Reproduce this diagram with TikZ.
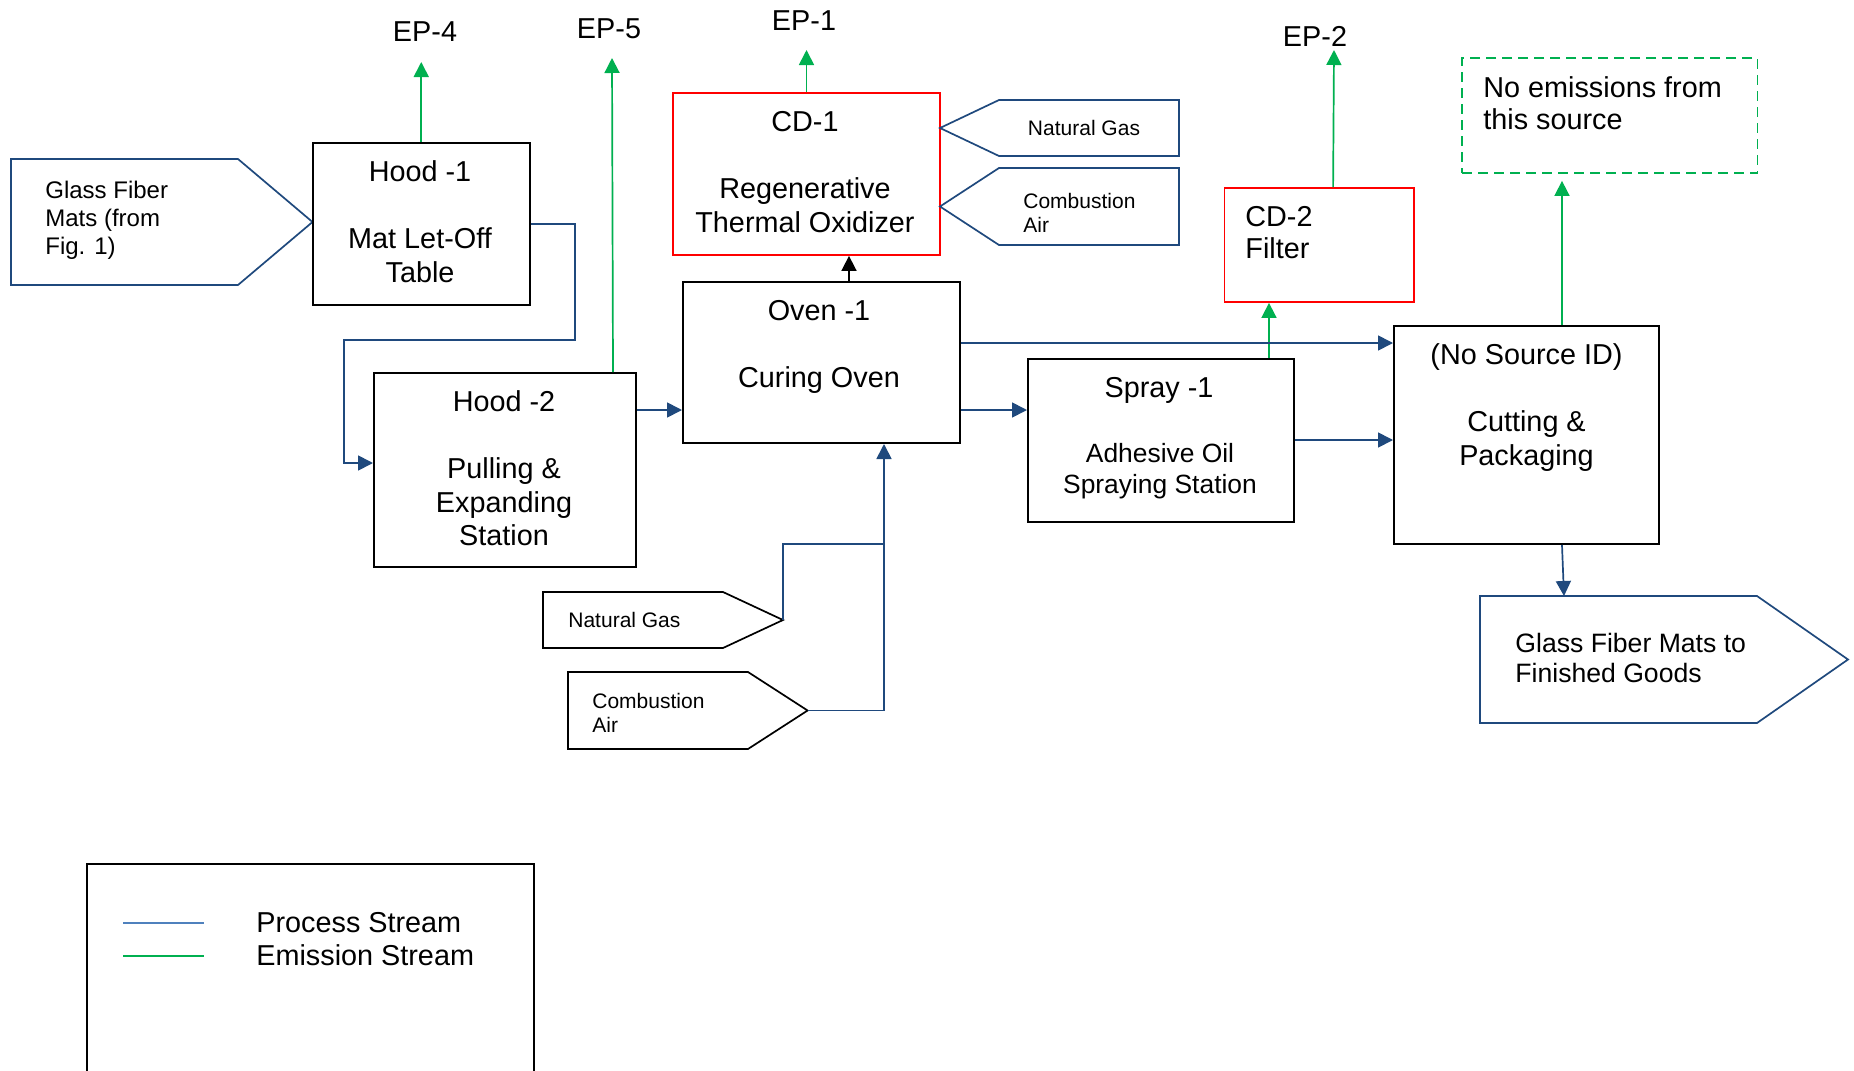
\documentclass[tikz,border=0pt]{standalone}
\usepackage{fontspec}
\setmainfont{Liberation Sans}
\usetikzlibrary{arrows.meta,calc}
\definecolor{procblue}{RGB}{31,73,125}
\definecolor{legblue}{RGB}{79,129,189}
\definecolor{emgreen}{RGB}{0,176,80}
\definecolor{cdred}{RGB}{255,0,0}
\newcommand\myfA{\fontsize{14.4pt}{16.75pt}\selectfont}
\newcommand\myfB{\fontsize{10.5pt}{12pt}\selectfont}
\newcommand\myfC{\fontsize{12pt}{14pt}\selectfont}
\newcommand\myfD{\fontsize{13.3pt}{15pt}\selectfont}
\newcommand\myfE{\fontsize{13.2pt}{15.5pt}\selectfont}
\newcommand\myfF{\fontsize{14.4pt}{16pt}\selectfont}
\newcommand\myfG{\fontsize{14.4pt}{16.5pt}\selectfont}
\begin{document}
\begin{tikzpicture}[x=0.5pt,y=-0.5pt,
  box/.style={draw=black,line width=1pt,inner sep=0pt},
  cdbox/.style={draw=cdred,line width=0.9pt,inner sep=0pt},
  txt/.style={inner sep=0pt,align=center,font=\myfA,text depth=0pt},
  ltxt/.style={inner sep=0pt,align=left,anchor=west,text depth=0pt},
  shp/.style={inner sep=0pt,outer sep=0pt},
  proc/.style={draw=procblue,line width=0.85pt},
  inb/.style={draw=black,line width=0.85pt},
  emis/.style={draw=emgreen,line width=0.85pt},
  arr/.style={-{Triangle[length=7.5pt,width=7.5pt]}},
]
\fill[white] (0,0) rectangle (1854,1071);
\useasboundingbox (0,0) rectangle (1854,1071);

% ---- input: glass fiber mats
\node[shp,minimum width=150.75pt,minimum height=63pt] (gf) at (161.75,222) {};
\draw[proc] (gf.north west) -- ($(gf.north east)+(-74.5,0)$) -- (gf.east) -- ($(gf.south east)+(-74.5,0)$) -- (gf.south west) -- cycle;
\node[ltxt,font=\myfC] (gft) at (45,218) {Glass Fiber\\Mats (from\\Fig. 1)};

% ---- boxes
\node[box,minimum width=108.75pt,minimum height=81pt] (hood1) at (421.25,224) {};
\node[txt] (hood1t) at (420,221.5) {Hood -1\\[16.75pt]Mat Let-Off\\Table};

\node[box,minimum width=131pt,minimum height=97pt] (hood2) at (505,470) {};
\node[txt] (hood2t) at (504,468.5) {Hood -2\\[16.75pt]Pulling \&\\Expanding\\Station};

\node[cdbox,minimum width=133.5pt,minimum height=81pt] (cd1) at (806.5,174) {};
\node[txt] (cd1t) at (805,172) {CD-1\\[16.75pt]Regenerative\\Thermal Oxidizer};

\node[box,minimum width=138.5pt,minimum height=80.5pt] (oven) at (821.5,362.5) {};
\node[txt] (ovent) at (819,343.5) {Oven -1\\[16.75pt]Curing Oven};

\node[cdbox,minimum width=94.75pt,minimum height=57pt] (cd2) at (1319.25,245) {};
\node[ltxt,font=\myfF] (cd2t) at (1245,232) {CD-2\\Filter};

\node[box,minimum width=133pt,minimum height=81.5pt] (spray) at (1161,440.5) {};
\node[txt] (sprayt) at (1159,387) {Spray -1};
\node[txt,font=\myfE] (sprayd) at (1160,468.5) {Adhesive Oil\\Spraying Station};

\node[box,minimum width=132.5pt,minimum height=109pt] (cut) at (1526.5,435) {};
\node[txt] (cutt) at (1526.5,404.5) {(No Source ID)\\[16.75pt]Cutting \&\\Packaging};

\node[box,draw=emgreen,line width=0.9pt,dash pattern=on 5pt off 3pt,minimum width=147.75pt,minimum height=57.5pt] (nes) at (1609.75,115.5) {};
\node[ltxt,font=\myfF] (nest) at (1483,103) {No emissions from\\this source};

% ---- output
\node[shp,minimum width=184pt,minimum height=63.5pt] (out) at (1664,659.5) {};
\draw[proc] (out.north west) -- ($(out.north east)+(-91,0)$) -- (out.east) -- ($(out.south east)+(-91,0)$) -- (out.south west) -- cycle;
\node[ltxt,font=\myfD] (outt) at (1515,658) {Glass Fiber Mats to\\Finished Goods};

% ---- CD-1 inputs
\node[shp,minimum width=119.5pt,minimum height=28pt] (ng1) at (1059.5,128) {};
\draw[proc] (ng1.north east) -- ($(ng1.north west)+(59,0)$) -- (ng1.west) -- ($(ng1.south west)+(59,0)$) -- (ng1.south east) -- cycle;
\node[txt,font=\myfB] (ng1t) at (1084,128) {Natural Gas};

\node[shp,minimum width=119.5pt,minimum height=38.5pt] (ca1) at (1059.5,206.5) {};
\draw[proc] (ca1.north east) -- ($(ca1.north west)+(59,0)$) -- (ca1.west) -- ($(ca1.south west)+(59,0)$) -- (ca1.south east) -- cycle;
\node[ltxt,font=\myfB] (ca1t) at (1023,213) {Combustion\\Air};

% ---- oven inputs
\node[shp,minimum width=120pt,minimum height=28pt] (ng2) at (663,620) {};
\draw[inb] (ng2.north west) -- ($(ng2.north east)+(-60,0)$) -- (ng2.east) -- ($(ng2.south east)+(-60,0)$) -- (ng2.south west) -- cycle;
\node[ltxt,font=\myfB] (ng2t) at (568,620) {Natural Gas};

\node[shp,minimum width=119.8pt,minimum height=38.5pt] (ca2) at (687.8,710.5) {};
\draw[inb] (ca2.north west) -- ($(ca2.north east)+(-59.6,0)$) -- (ca2.east) -- ($(ca2.south east)+(-59.6,0)$) -- (ca2.south west) -- cycle;
\node[ltxt,font=\myfB] (ca2t) at (592,713) {Combustion\\Air};

% ---- emission point labels
\node[txt] (ep4) at (425,32) {EP-4};
\node[txt] (ep5) at (609,29) {EP-5};
\node[txt] (ep1) at (804,21) {EP-1};
\node[txt] (ep2) at (1315,36) {EP-2};

% ---- emission streams
\coordinate (ep4a) at (421.25,62);
\draw[emis,arr] (hood1.north) -- (ep4a);
\coordinate (h2e) at ($(hood2.north west)+(240,0)$);
\coordinate (ep5a) at (612,58);
\draw[emis,arr] (h2e) -- (ep5a);
\coordinate (ep1a) at (806.5,50);
\draw[emis,arr] (cd1.north) -- (ep1a);
\coordinate (cd2e) at ($(cd2.north west)+(109.5,0)$);
\coordinate (ep2a) at (1334,50);
\draw[emis,arr] (cd2e) -- (ep2a);
\coordinate (spe) at ($(spray.north west)+(242,0)$);
\draw[emis,arr] (spe) -- (spe |- cd2.south);
\coordinate (cute) at ($(cut.north)+(35.5,0)$);
\draw[emis,arr] (cute) -- ($(cute |- nes.south)+(0,7)$);

% ---- oven to CD-1
\coordinate (ovt) at ($(oven.north west)+(167,0)$);
\draw[inb,arr] (ovt) -- (ovt |- cd1.south);

% ---- process streams
\coordinate (j1) at (575,340);
\coordinate (j2) at (344,340);
\coordinate (h2in) at ($(hood2.west)+(0,-7)$);
\draw[proc,arr] (hood1.east) -| (j1) -- (j2) |- (h2in);
\coordinate (h2o) at ($(hood2.north east)+(0,38)$);
\draw[proc,arr] (h2o) -- (h2o -| oven.west);
\coordinate (o1) at ($(oven.north east)+(0,62)$);
\draw[proc,arr] (o1) -- (o1 -| cut.west);
\coordinate (o2) at ($(oven.north east)+(0,129)$);
\draw[proc,arr] (o2) -- (o2 -| spray.west);
\coordinate (s1) at ($(spray.north east)+(0,82)$);
\draw[proc,arr] (s1) -- (s1 -| cut.west);
\coordinate (cb) at ($(cut.south)+(35.5,0)$);
\coordinate (ot) at ($(out.north west)+(84,0)$);
\draw[proc,arr] (cb) -- (ot);
\coordinate (jn) at (884,544);
\draw[proc] (ng2.east) |- (jn);
\draw[proc,arr] (ca2.east) -| (jn |- oven.south);

% ---- legend
\node[box,minimum width=223.5pt,minimum height=126pt] (leg) at (310.5,990) {};
\coordinate (lp1) at (123,923);
\coordinate (lp2) at (204,923);
\coordinate (le1) at (123,956);
\coordinate (le2) at (204,956);
\draw[draw=legblue,line width=0.9pt] (lp1) -- (lp2);
\draw[emis,line width=0.9pt] (le1) -- (le2);
\node[ltxt,font=\myfG] (legt) at (256,938.5) {Process Stream\\Emission Stream};
\end{tikzpicture}
\end{document}
